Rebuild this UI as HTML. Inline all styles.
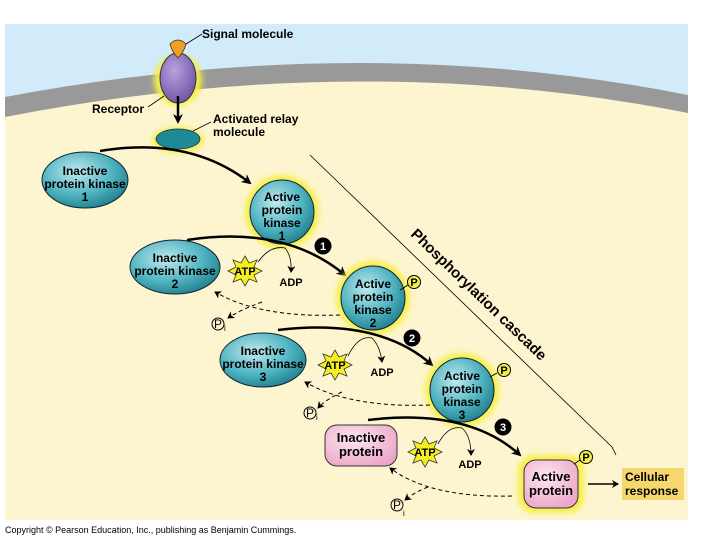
<!DOCTYPE html>
<html><head><style>
body{margin:0;background:#fff;}
svg{display:block;font-family:"Liberation Sans",Arial,sans-serif;font-weight:bold;}
</style></head><body>
<svg width="720" height="540" viewBox="0 0 720 540">
<defs>
<radialGradient id="teal" cx="40%" cy="35%" r="70%"><stop offset="0" stop-color="#bfe9ee"/><stop offset="0.6" stop-color="#4fb3c0"/><stop offset="1" stop-color="#1f7d8a"/></radialGradient>
<radialGradient id="pink" cx="40%" cy="35%" r="70%"><stop offset="0" stop-color="#fde6f1"/><stop offset="1" stop-color="#eca6c8"/></radialGradient>
<radialGradient id="purp" cx="40%" cy="35%" r="70%"><stop offset="0" stop-color="#b9a2de"/><stop offset="1" stop-color="#6e53a6"/></radialGradient>
<filter id="glow" x="-50%" y="-50%" width="200%" height="200%"><feGaussianBlur stdDeviation="3"/></filter>
<marker id="ah" markerWidth="10" markerHeight="10" refX="8" refY="5" orient="auto" markerUnits="userSpaceOnUse"><path d="M0,0 L10,5 L0,10 L3,5z" fill="#000"/></marker>
<marker id="as" markerWidth="8" markerHeight="8" refX="6" refY="4" orient="auto" markerUnits="userSpaceOnUse"><path d="M0,0 L7,4 L0,8 L2,4z" fill="#000"/></marker>
</defs>
<rect x="5" y="24" width="683" height="496" fill="#fdf5d0"/>
<path d="M5,24 H688 V95 Q360,30 5,97z" fill="#d2ebfb"/>
<path d="M5,97 Q360,30 688,95 V113 Q360,48 5,117z" fill="#999"/>
<ellipse cx="178" cy="80" rx="24" ry="26" fill="#f6ef4a" filter="url(#glow)"/>
<ellipse cx="178" cy="78" rx="18" ry="25" fill="url(#purp)" stroke="#333"/>
<path d="M170,44 Q178,36 186,44 Q184,52 178,58 Q172,52 170,44z" fill="#f0a020" stroke="#333" stroke-width="0.8"/>
<line x1="186" y1="44" x2="202" y2="34" stroke="#000" stroke-width="0.8"/>
<text x="202" y="38" font-size="12">Signal molecule</text>
<text x="92" y="113" font-size="12">Receptor</text>
<line x1="148" y1="107" x2="164" y2="96" stroke="#000" stroke-width="0.8"/>
<line x1="178" y1="96" x2="178" y2="122" stroke="#000" stroke-width="2.5" marker-end="url(#ah)"/>
<ellipse cx="178" cy="140" rx="26" ry="13" fill="#f6ef4a" filter="url(#glow)"/>
<ellipse cx="178" cy="139" rx="22" ry="10" fill="#1f8a95" stroke="#135" stroke-width="0.8"/>
<line x1="193" y1="131" x2="211" y2="122" stroke="#000" stroke-width="0.8"/>
<text x="213" y="123" font-size="12">Activated relay</text>
<text x="213" y="136" font-size="12">molecule</text>
<path d="M310,155 L612,447 L616,455" fill="none" stroke="#000" stroke-width="0.8"/>
<text transform="translate(410,235) rotate(44)" font-size="15">Phosphorylation cascade</text>
<ellipse cx="85" cy="180" rx="43" ry="28" fill="url(#teal)" stroke="#123" />
<g font-size="12" text-anchor="middle"><text x="85" y="175">Inactive</text><text x="85" y="188">protein kinase</text><text x="85" y="201">1</text></g>
<path d="M100,151 Q190,136 250,183" fill="none" stroke="#000" stroke-width="2.5" marker-end="url(#ah)"/>
<circle cx="282" cy="212" r="37" fill="#f6ef4a" filter="url(#glow)"/>
<circle cx="282" cy="212" r="32" fill="url(#teal)" stroke="#123"/>
<g font-size="12" text-anchor="middle"><text x="282" y="201">Active</text><text x="282" y="214">protein</text><text x="282" y="227">kinase</text><text x="282" y="240">1</text></g>
<ellipse cx="175" cy="267" rx="45" ry="27" fill="url(#teal)" stroke="#123"/>
<g font-size="12" text-anchor="middle"><text x="175" y="262">Inactive</text><text x="175" y="275">protein kinase</text><text x="175" y="288">2</text></g>
<path d="M187,240 Q285,225 345,275" fill="none" stroke="#000" stroke-width="2.5" marker-end="url(#ah)"/>
<circle cx="373" cy="298" r="37" fill="#f6ef4a" filter="url(#glow)"/>
<circle cx="373" cy="298" r="32" fill="url(#teal)" stroke="#123"/>
<g font-size="12" text-anchor="middle"><text x="373" y="288">Active</text><text x="373" y="301">protein</text><text x="373" y="314">kinase</text><text x="373" y="327">2</text></g>
<ellipse cx="263" cy="360" rx="43" ry="27" fill="url(#teal)" stroke="#123"/>
<g font-size="12" text-anchor="middle"><text x="263" y="355">Inactive</text><text x="263" y="368">protein kinase</text><text x="263" y="381">3</text></g>
<path d="M278,330 Q380,318 432,365" fill="none" stroke="#000" stroke-width="2.5" marker-end="url(#ah)"/>
<circle cx="462" cy="390" r="37" fill="#f6ef4a" filter="url(#glow)"/>
<circle cx="462" cy="390" r="32" fill="url(#teal)" stroke="#123"/>
<g font-size="12" text-anchor="middle"><text x="462" y="380">Active</text><text x="462" y="393">protein</text><text x="462" y="406">kinase</text><text x="462" y="419">3</text></g>
<rect x="325" y="425" width="72" height="41" rx="12" fill="url(#pink)" stroke="#333"/>
<g font-size="13" text-anchor="middle"><text x="361" y="442">Inactive</text><text x="361" y="456">protein</text></g>
<path d="M368,420 Q468,408 520,455" fill="none" stroke="#000" stroke-width="2.5" marker-end="url(#ah)"/>
<rect x="518" y="455" width="66" height="58" rx="16" fill="#f6ef4a" filter="url(#glow)"/>
<rect x="524" y="460" width="54" height="48" rx="12" fill="url(#pink)" stroke="#333"/>
<g font-size="13" text-anchor="middle"><text x="551" y="481">Active</text><text x="551" y="495">protein</text></g>
<line x1="588" y1="484" x2="618" y2="484" stroke="#000" stroke-width="1.5" marker-end="url(#as)"/>
<rect x="622" y="468" width="62" height="32" fill="#f5d76e"/>
<g font-size="12"><text x="625" y="481">Cellular</text><text x="625" y="495">response</text></g>
<g font-size="11" text-anchor="middle" fill="#fff">
<circle cx="323" cy="246" r="8.5" fill="#000"/><text x="323" y="250">1</text>
<circle cx="412" cy="338" r="8.5" fill="#000"/><text x="412" y="342">2</text>
<circle cx="503" cy="427" r="8.5" fill="#000"/><text x="503" y="431">3</text>
</g>
<g font-size="11" text-anchor="middle" stroke-width="1">
<line x1="400" y1="290" x2="408" y2="285" stroke="#000"/><circle cx="414" cy="282" r="6.5" fill="#f6ef4a" stroke="#000"/><text x="414" y="286">P</text>
<line x1="490" y1="377" x2="497" y2="373" stroke="#000"/><circle cx="504" cy="370" r="6.5" fill="#f6ef4a" stroke="#000"/><text x="504" y="374">P</text>
<line x1="574" y1="464" x2="580" y2="460" stroke="#000"/><circle cx="586" cy="457" r="6.5" fill="#f6ef4a" stroke="#000"/><text x="586" y="461">P</text>
</g>
<g fill="#f6ef20" stroke="#333" stroke-width="0.8">
<polygon points="245,256 249,263 257,260 254,267 262,271 254,275 257,282 249,279 245,286 241,279 233,282 236,275 228,271 236,267 233,260 241,263"/>
<polygon points="335,350 339,357 347,354 344,361 352,365 344,369 347,376 339,373 335,380 331,373 323,376 326,369 318,365 326,361 323,354 331,357"/>
<polygon points="425,437 429,444 437,441 434,448 442,452 434,456 437,463 429,460 425,467 421,460 413,463 416,456 408,452 416,448 413,441 421,444"/>
</g>
<g font-size="11" text-anchor="middle">
<text x="245" y="275">ATP</text><text x="335" y="369">ATP</text><text x="425" y="456">ATP</text>
<text x="291" y="286">ADP</text><text x="382" y="376">ADP</text><text x="470" y="468">ADP</text>
</g>
<g fill="none" stroke="#000" stroke-width="0.8" marker-end="url(#as)">
<path d="M258,262 Q270,245 285,248 Q292,256 291,272"/>
<path d="M348,356 Q358,335 372,338 Q380,346 382,362"/>
<path d="M438,444 Q448,425 462,428 Q471,436 471,455"/>
</g>
<g fill="none" stroke="#000" stroke-width="1" stroke-dasharray="4,3" marker-end="url(#as)">
<path d="M340,315 Q260,318 215,292"/>
<path d="M262,302 Q240,310 228,318"/>
<path d="M430,405 Q350,408 305,382"/>
<path d="M342,392 Q325,400 318,408"/>
<path d="M512,496 Q430,498 390,468"/>
<path d="M428,487 Q415,492 405,500"/>
</g>
<g font-size="12" font-weight="normal">
<circle cx="218" cy="324" r="6" fill="none" stroke="#000"/><text x="214" y="328">P</text><text x="224" y="331" font-size="8">i</text>
<circle cx="310" cy="413" r="6" fill="none" stroke="#000"/><text x="306" y="417">P</text><text x="316" y="420" font-size="8">i</text>
<circle cx="397" cy="505" r="6" fill="none" stroke="#000"/><text x="393" y="509">P</text><text x="403" y="516" font-size="8">i</text>
</g>
<text x="5" y="533" font-size="9" font-weight="normal">Copyright © Pearson Education, Inc., publishing as Benjamin Cummings.</text>
</svg>
</body></html>
